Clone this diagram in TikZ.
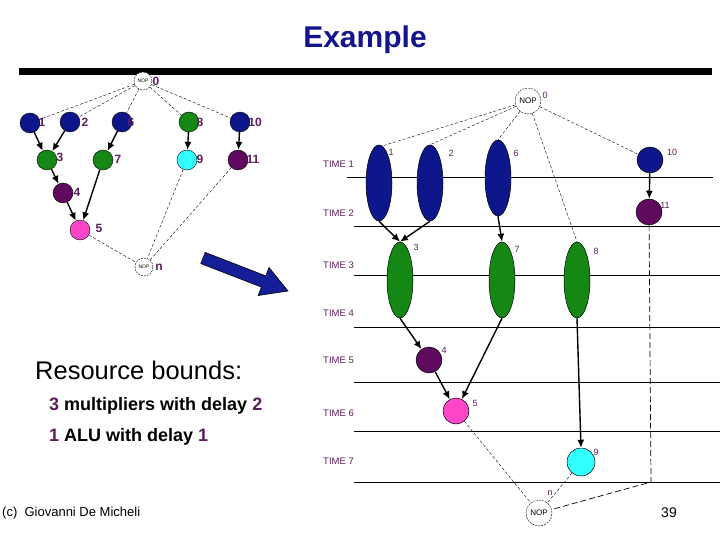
\documentclass[tikz,border=0pt]{standalone}
\usepackage{fontspec}
\setmainfont{Liberation Sans}
\usepackage{xcolor}
\usetikzlibrary{arrows.meta, shapes.geometric, calc}

\definecolor{mulblue}{RGB}{14,22,140}
\definecolor{alugreen}{RGB}{20,135,20}
\definecolor{cmpcyan}{RGB}{50,255,255}
\definecolor{oppurple}{RGB}{95,10,95}
\definecolor{oppink}{RGB}{255,70,200}
\definecolor{labpurple}{RGB}{90,30,90}
\definecolor{titleblue}{RGB}{20,20,140}
\definecolor{arrowblue}{RGB}{20,30,150}

\begin{document}
\begin{tikzpicture}[x=1pt, y=-1pt,
  dot/.style={circle, draw, line width=0.4pt, minimum size=20pt, inner sep=0pt},
  tall/.style={ellipse, draw, line width=0.5pt, minimum width=26pt, minimum height=76pt, inner sep=0pt},
  disc/.style={circle, draw, line width=0.5pt, minimum size=26pt, inner sep=0pt},
  nop/.style={circle, draw, line width=0.4pt, dash pattern=on 2pt off 1pt, fill=white, inner sep=0pt},
  edge/.style={-{Latex[length=8pt, width=7pt]}, line width=1.4pt},
  dep/.style={dash pattern=on 3pt off 2pt, line width=0.4pt},
  num/.style={text=labpurple, font=\bfseries\fontsize{12}{12}\selectfont, inner sep=0pt},
  tag/.style={text=labpurple, font=\fontsize{9}{9}\selectfont, inner sep=0pt},
  timelab/.style={text=labpurple, font=\fontsize{9.5}{10}\selectfont, anchor=west, inner sep=0pt}
]
\useasboundingbox (0,0) rectangle (720,540);

% title and bar
\node[font=\bfseries\fontsize{30}{30}\selectfont, text=titleblue] (title) at (365,40) {Example};
\fill (19,68) rectangle (712,75);

% small graph
\node[nop, minimum size=18pt, font=\fontsize{5}{5}\selectfont] (a0) at (143,81) {NOP};
\node[dot, fill=mulblue] (a1) at (30,123) {};
\node[dot, fill=mulblue] (a2) at (70,122) {};
\node[dot, fill=mulblue] (a6) at (122,122) {};
\node[dot, fill=alugreen] (a8) at (189,122) {};
\node[dot, fill=mulblue] (a10) at (240,122) {};
\node[dot, fill=alugreen] (a3) at (47,160) {};
\node[dot, fill=alugreen] (a7) at (103,160) {};
\node[dot, fill=cmpcyan] (a9) at (187,160) {};
\node[dot, fill=oppurple] (a11) at (238,160) {};
\node[dot, fill=oppurple] (a4) at (63,193) {};
\node[dot, fill=oppink] (a5) at (80,230) {};
\node[nop, minimum size=18pt, font=\fontsize{5}{5}\selectfont] (an) at (144,267) {NOP};

\node[num] (ka0) at (156,81) {0};
\node[num] (ka1) at (42,122) {1};
\node[num] (ka2) at (85,122) {2};
\node[num] (ka6) at (131,122) {6};
\node[num] (ka8) at (200,122) {8};
\node[num] (ka10) at (255,122) {10};
\node[num] (ka3) at (60,157) {3};
\node[num] (ka7) at (118,159) {7};
\node[num] (ka9) at (200,159) {9};
\node[num] (ka11) at (253,159) {11};
\node[num] (ka4) at (77,192) {4};
\node[num] (ka5) at (99,228) {5};
\node[num] (kan) at (159,267) {n};

\draw[edge] (a1) -- (a3);
\draw[edge] (a2) -- (a3);
\draw[edge] (a6) -- (a7);
\draw[edge] (a8) -- (a9);
\draw[edge] (a10) -- (a11);
\draw[edge] (a3) -- (a4);
\draw[edge] (a4) -- (a5);
\draw[edge] (a7) -- (a5);
\foreach \n in {a1,a2,a6,a8,a10}
  \draw[dep] (a0) -- (\n);
\foreach \n in {a5,a9,a11}
  \draw[dep] (\n) -- (an);

% big arrow
\draw[fill=arrowblue, line width=0.6pt] (200.8,263.6) -- (205.2,252.4) -- (265.8,275.9)
  -- (269.0,267.5) -- (288,291) -- (258.2,295.5) -- (261.4,287.1) -- cycle;

% time steps
\draw[line width=0.9pt] (347,177) -- (713,177);
\foreach \ly in {226,275,327,382,431,482}
  \draw[line width=0.9pt] (354,\ly) -- (720,\ly);
\foreach \ty/\k in {164/1,213/2,265/3,313/4,360/5,413/6,461/7}
  \node[timelab] (time\k) at (323,\ty) {TIME \k};

% scheduled graph
\node[nop, minimum size=26pt, font=\fontsize{8}{8}\selectfont] (b0) at (528,101) {NOP};
\node[tall, fill=mulblue] (b1) at (379,183) {};
\node[tall, fill=mulblue] (b2) at (430,183) {};
\node[tall, fill=mulblue] (b6) at (498,178) {};
\node[disc, fill=mulblue] (b10) at (650,160) {};
\node[disc, fill=oppurple] (b11) at (649,212) {};
\node[tall, fill=alugreen] (b3) at (400,280) {};
\node[tall, fill=alugreen] (b7) at (502,280) {};
\node[tall, fill=alugreen] (b8) at (577,280) {};
\node[disc, fill=oppurple] (b4) at (429,360) {};
\node[disc, fill=oppink] (b5) at (456,411) {};
\node[disc, fill=cmpcyan, minimum size=28pt] (b9) at (581,462) {};
\node[nop, minimum size=26pt, font=\fontsize{8}{8}\selectfont] (bn) at (539,513) {NOP};
\coordinate (c11) at (651,482);

\node[tag] (kb0) at (545,95) {0};
\node[tag] (kb1) at (391,152) {1};
\node[tag] (kb2) at (451,153) {2};
\node[tag] (kb6) at (516,153) {6};
\node[tag] (kb10) at (672,152) {10};
\node[tag] (kb11) at (665,205) {11};
\node[tag] (kb3) at (416,247) {3};
\node[tag] (kb7) at (517,249) {7};
\node[tag] (kb8) at (596,251) {8};
\node[tag] (kb4) at (444,350) {4};
\node[tag] (kb5) at (475,403) {5};
\node[tag] (kb9) at (596,452) {9};
\node[tag] (kbn) at (550,493) {n};

\draw[edge] (b1.south) -- (b3.north);
\draw[edge] (b2.south) -- (b3.north);
\draw[edge] (b6.south) -- (b7.north);
\draw[edge] (b10) -- (b11);
\draw[edge] (b3.south) -- (b4);
\draw[edge] (b4) -- (b5);
\draw[edge] (b7.south) -- (b5);
\draw[edge] (b8.south) -- (b9.north);
\draw[dep] (b0) -- (b1.85);
\draw[dep] (b0) -- (b2.north);
\draw[dep] (b0) -- (b6.north);
\draw[dep] (b0) -- (b8.north);
\draw[dep] (b0) -- (b10);
\draw[dep] (b5) -- (bn);
\draw[dep] (b9) -- (bn);
\draw[dash pattern=on 6pt off 3pt, line width=0.7pt] (b11) -- (c11) -- (bn);

% text
\node[anchor=west, inner sep=0pt, font=\fontsize{25.5}{26}\selectfont] (rb) at (35,370) {Resource bounds:};
\node[anchor=west, inner sep=0pt, font=\bfseries\fontsize{18}{18}\selectfont] (mul3) at (49,406)
  {\textcolor{labpurple}{3} multipliers with delay \textcolor{labpurple}{2}};
\node[anchor=west, inner sep=0pt, font=\bfseries\fontsize{18}{18}\selectfont] (alu1) at (49,437)
  {\textcolor{labpurple}{1} ALU with delay \textcolor{labpurple}{1}};
\node[anchor=west, inner sep=0pt, font=\fontsize{13}{13}\selectfont] (copy) at (2,513) {(c)\ \ Giovanni De Micheli};
\node[font=\fontsize{14}{14}\selectfont] (page) at (669,513) {39};
\end{tikzpicture}
\end{document}
